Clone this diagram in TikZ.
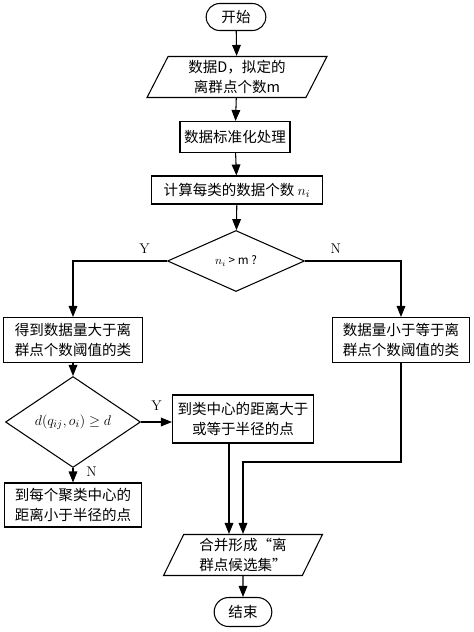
\documentclass[tikz,border=0pt]{standalone}
\usepackage{fontspec}
\newfontfamily\cjk{Noto Sans CJK SC}
\usetikzlibrary{shapes.geometric,shapes.misc,arrows.meta}
\begin{document}
\begin{tikzpicture}[x=0.03cm,y=-0.03cm,line width=0.9pt,
  every node/.style={font=\cjk\fontsize{12.4}{17}\selectfont,align=center,inner sep=1pt},
  term/.style={draw,rounded rectangle},
  proc/.style={draw,rectangle},
  io/.style={draw,trapezium,trapezium left angle=67,trapezium right angle=113,trapezium stretches},
  test/.style={draw,diamond,inner sep=0pt},
  yn/.style={font=\fontsize{12}{14}\selectfont},
  >={Triangle[length=3.3mm,width=2.6mm]}]
\useasboundingbox (0,0) rectangle (474,632);
\node[term,minimum width=18.6mm,minimum height=8.1mm] (start) at (236,17) {开始};
\node[io,minimum width=54mm,minimum height=12.3mm] (input) at (237,77) {数据D，拟定的\\离群点个数m};
\node[proc,minimum width=33mm,minimum height=9.3mm] (norm) at (235,137) {数据标准化处理};
\node[proc,minimum width=51.3mm,minimum height=8.4mm] (count) at (237,190) {计算每类的数据个数 $n_i$};
\node[test,minimum width=41.1mm,minimum height=18.3mm,font=\cjk\fontsize{10}{12}\selectfont] (cmp) at (236,261) {$n_i$ > m ?};
\node[proc,minimum width=41.7mm,minimum height=13.5mm] (big) at (73,340) {得到数据量大于离\\群点个数阈值的类};
\node[proc,minimum width=41.1mm,minimum height=13.5mm] (small) at (401,340) {数据量小于等于离\\群点个数阈值的类};
\node[test,minimum width=40.5mm,minimum height=18mm] (dist) at (73,422) {$d(q_{ij},o_i)\geq d$};
\node[proc,minimum width=42.3mm,minimum height=14.4mm] (far) at (243,419) {到类中心的距离大于\\或等于半径的点};
\node[proc,minimum width=41.1mm,minimum height=13.2mm] (near) at (73,505) {到每个聚类中心的\\距离小于半径的点};
\node[io,minimum width=47.7mm,minimum height=12.3mm] (merge) at (243,555) {合并形成“离\\群点候选集”};
\node[term,minimum width=18mm,minimum height=8.7mm] (stop) at (243,612) {结束};
\coordinate (bend) at (401,462);
\path[draw,->] (start) -- (input);
\path[draw,->] (input) -- (norm);
\path[draw,->] (norm) -- (count);
\path[draw,->] (count) -- (cmp);
\path[draw,->] (cmp.west) -| node[yn,pos=0.12,above=5pt] {Y} (big.north);
\path[draw,->] (cmp.east) -| node[yn,pos=0.16,above=5pt] {N} (small.north);
\path[draw,->] (big) -- (dist);
\path[draw,->] (dist.east) -- node[yn,pos=0.5,above=8pt] {Y} (dist.east -| far.west);
\path[draw,->] (dist) -- node[yn,pos=0.22,right=10pt] {N} (near);
\path[draw,->] ([xshift=-4.2mm]far.south) -- ([xshift=-4.2mm]far.south |- merge.north);
\path[draw,->] (small.south) -- (bend) -| (merge.north);
\path[draw,->] (merge) -- (stop);
\end{tikzpicture}
\end{document}
